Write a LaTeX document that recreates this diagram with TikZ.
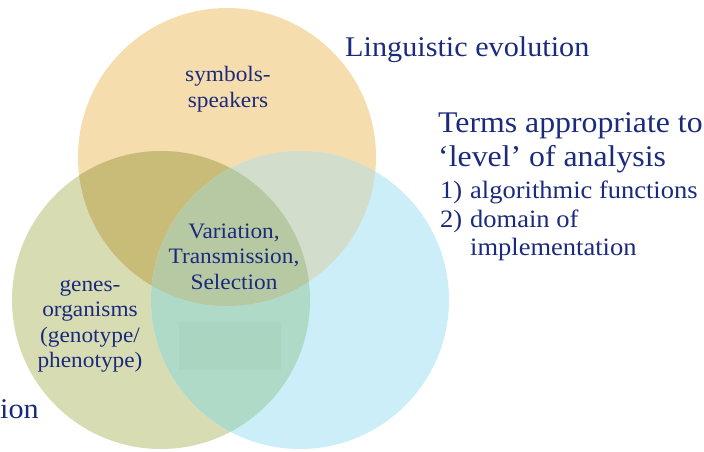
\documentclass[tikz,border=0pt]{standalone}
\usepackage{fontspec}
\setmainfont{Liberation Serif}[FakeStretch=1.06]
\definecolor{ink}{HTML}{1B2A7C}
\definecolor{cOr}{HTML}{F5DDAD}
\definecolor{cGr}{HTML}{D8DCB2}
\definecolor{cBl}{HTML}{CCEEF8}
\definecolor{cOrGr}{HTML}{C9BB78}
\definecolor{cOrBl}{HTML}{D3DDCB}
\definecolor{cGrBl}{HTML}{B0DAC8}
\definecolor{cAll}{HTML}{B7C9A3}
\definecolor{cPanel}{HTML}{A9D5C1}
\begin{document}
\begin{tikzpicture}[x=1pt,y=-1pt,
  lbl/.style={text=ink,inner sep=0pt,align=center},
  head/.style={lbl,font=\fontsize{28.5}{33}\selectfont},
  big/.style={lbl,font=\fontsize{30}{35}\selectfont},
  mid/.style={lbl,font=\fontsize{25}{28}\selectfont},
  small/.style={lbl,font=\fontsize{22}{25}\selectfont}]
\useasboundingbox (0,0) rectangle (704,451);
\def\rr{149}
\coordinate (co) at (227,157);
\coordinate (cg) at (161,300);
\coordinate (cb) at (300,300);
% plain discs
\fill[cOr] (co) circle (\rr);
\fill[cGr] (cg) circle (\rr);
\fill[cBl] (cb) circle (\rr);
% pairwise overlaps
\begin{scope}\clip (co) circle (\rr); \fill[cOrGr] (cg) circle (\rr);\end{scope}
\begin{scope}\clip (co) circle (\rr); \fill[cOrBl] (cb) circle (\rr);\end{scope}
\begin{scope}\clip (cg) circle (\rr); \fill[cGrBl] (cb) circle (\rr);\end{scope}
% triple overlap
\begin{scope}\clip (co) circle (\rr); \clip (cg) circle (\rr); \fill[cAll] (cb) circle (\rr);\end{scope}
% faint panel in the lower lens
\fill[cPanel] (179,322) rectangle (281,370);
% headings
\node[head,anchor=base west] (ling) at (345,56) {Linguistic evolution};
\node[big,anchor=base west] (terms1) at (438,132) {Terms appropriate to};
\node[big,anchor=base west] (terms2) at (438,166) {‘level’ of analysis};
\node[mid,anchor=base west] (it1n) at (440,198) {1)};
\node[mid,anchor=base west] (it1) at (470,198) {algorithmic functions};
\node[mid,anchor=base west] (it2n) at (440,227) {2)};
\node[mid,anchor=base west] (it2) at (470,227) {domain of};
\node[mid,anchor=base west] (it3) at (470,255) {implementation};
\node[head,anchor=base west] (bio) at (0,418) {ion};
% circle labels
\node[small,anchor=base] (sym1) at (228,81) {symbols-};
\node[small,anchor=base] (sym2) at (228,107) {speakers};
\node[small,anchor=base] (var1) at (234,238) {Variation,};
\node[small,anchor=base] (var2) at (234,263) {Transmission,};
\node[small,anchor=base] (var3) at (234,289) {Selection};
\node[small,anchor=base] (gen1) at (90,291) {genes-};
\node[small,anchor=base] (gen2) at (90,316) {organisms};
\node[small,anchor=base] (gen3) at (90,342) {(genotype/};
\node[small,anchor=base] (gen4) at (90,367) {phenotype)};
\end{tikzpicture}
\end{document}
